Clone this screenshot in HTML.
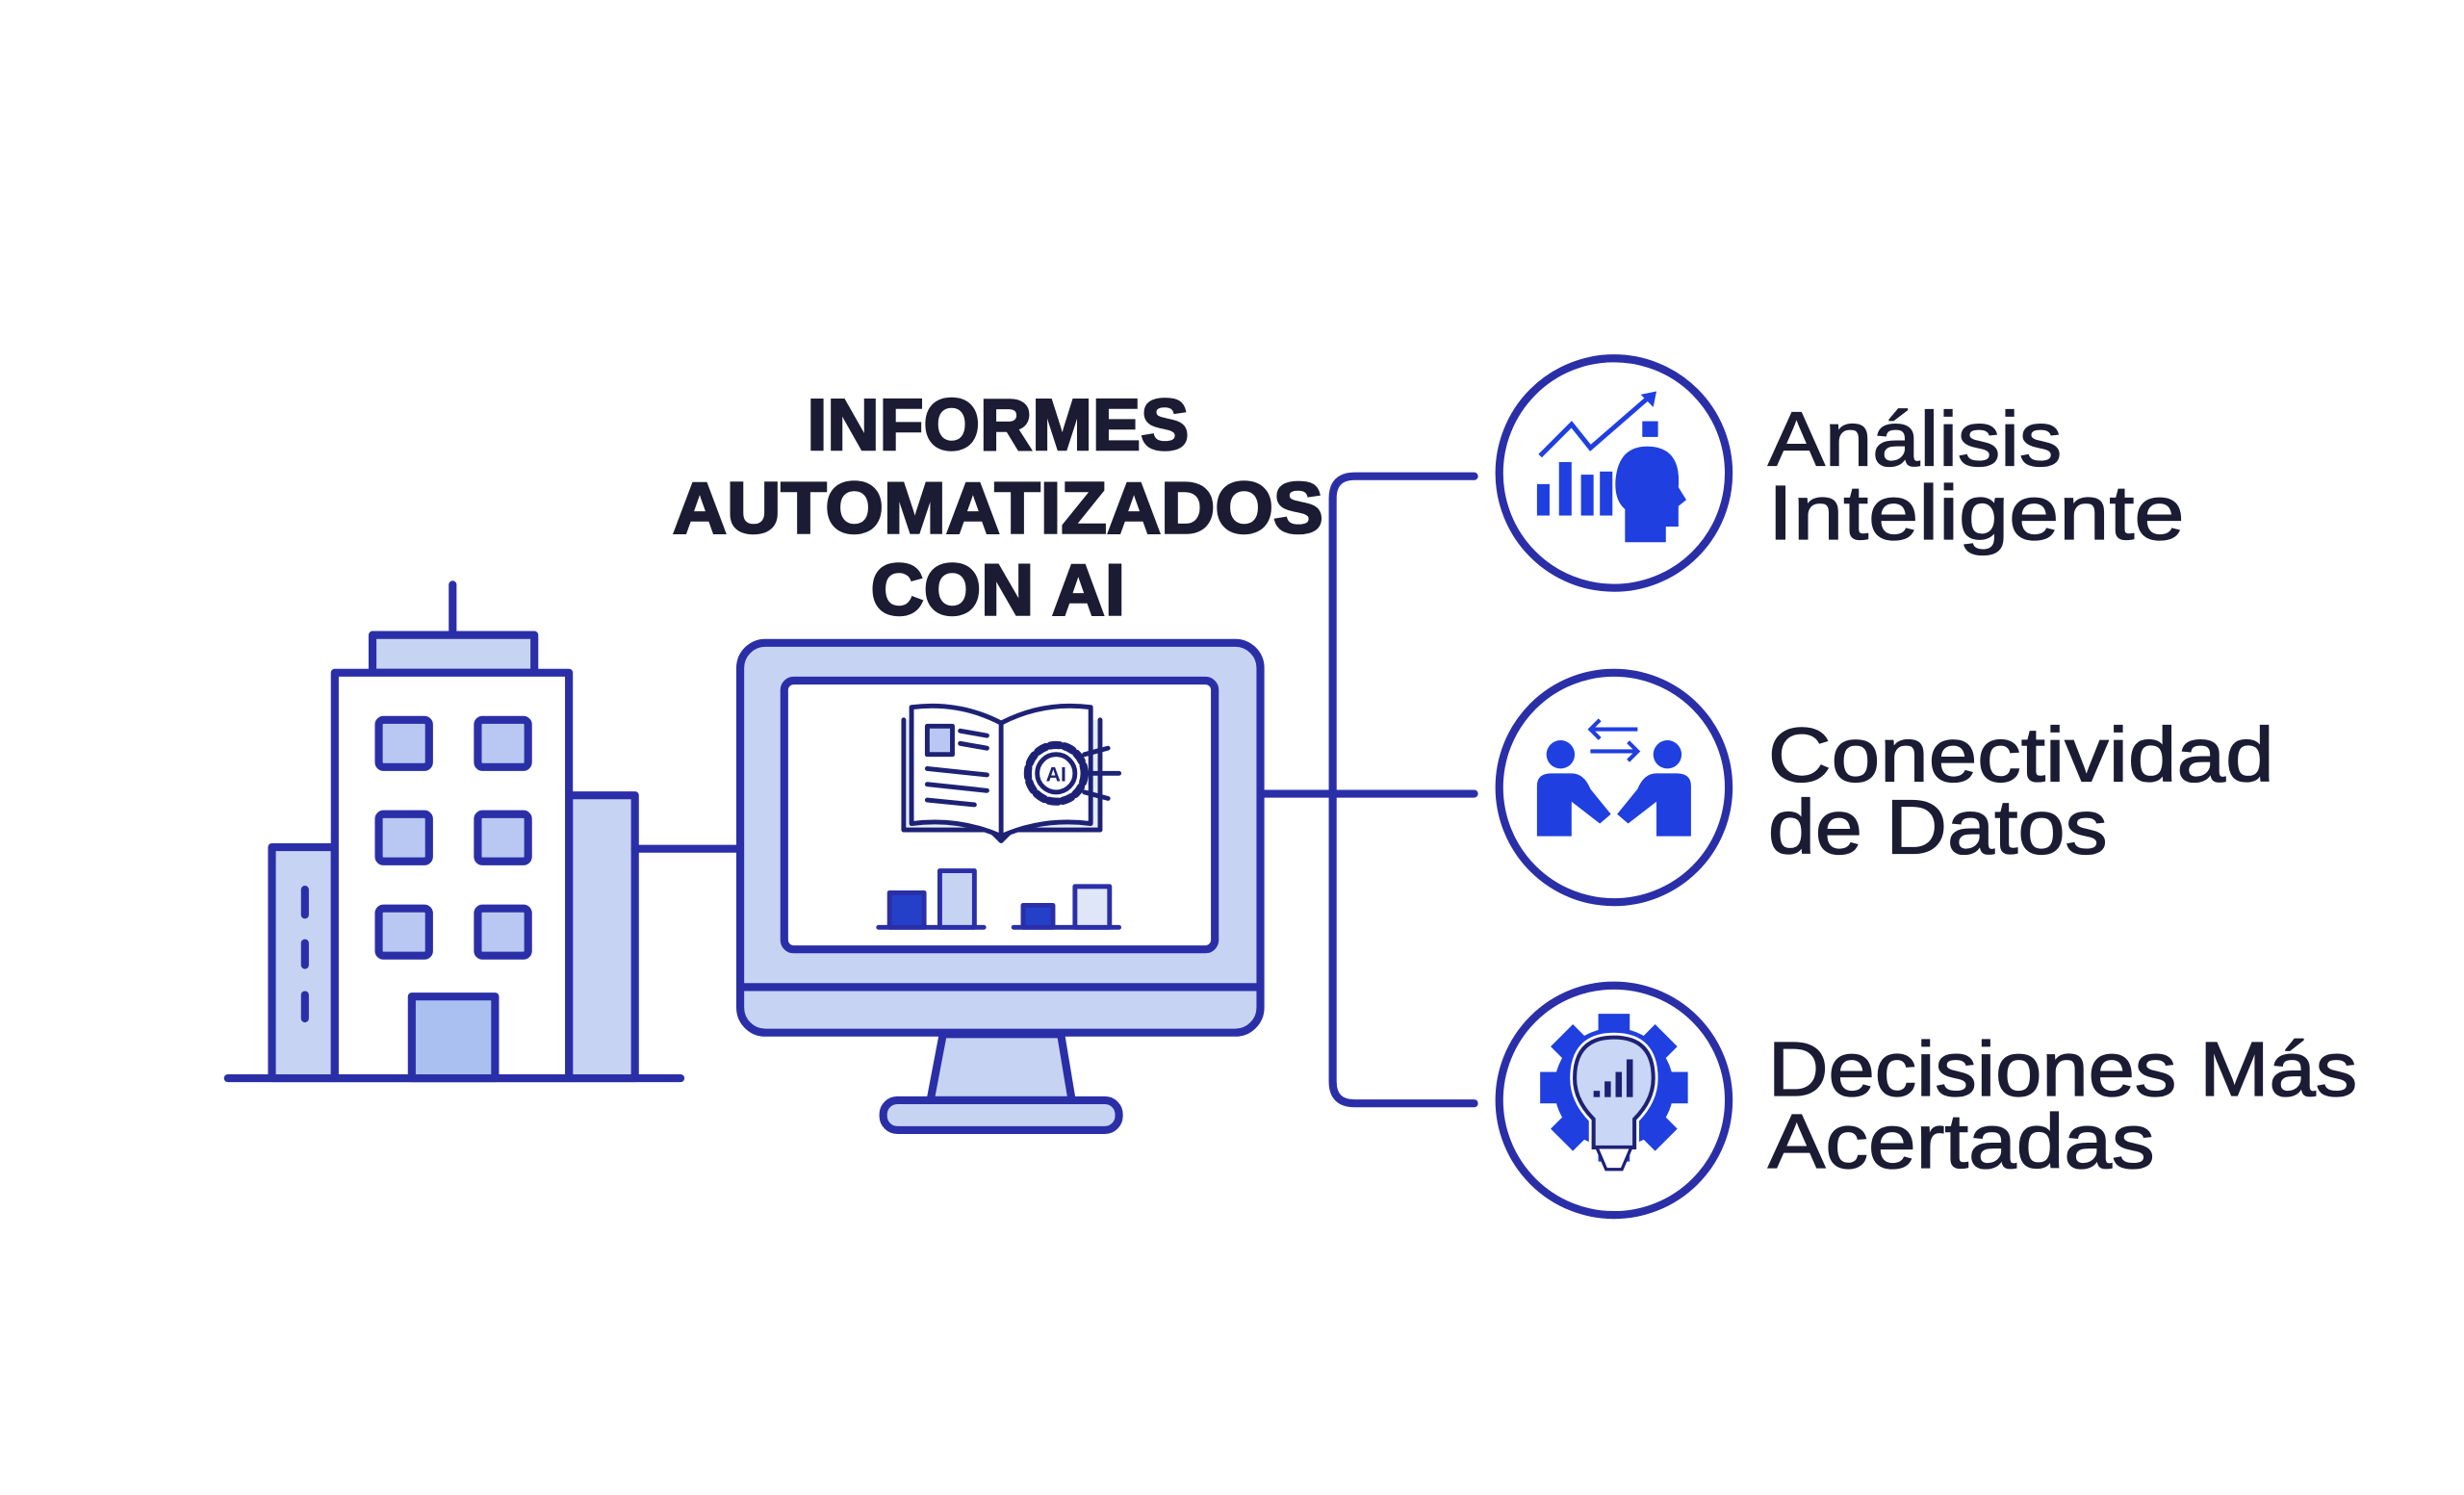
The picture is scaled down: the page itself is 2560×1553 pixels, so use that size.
<!DOCTYPE html>
<html><head><meta charset="utf-8"><style>
html,body{margin:0;padding:0;background:#fff;}
svg{display:block;}
</style></head><body>
<svg width="2560" height="1553" viewBox="0 0 1560 946.4" xmlns="http://www.w3.org/2000/svg">
<rect width="1560" height="947" fill="#fff"/>
<g transform="scale(0.995)">
<g stroke="#2a2fa8" stroke-width="5" stroke-linejoin="round" stroke-linecap="round">
<line x1="288" y1="372" x2="288" y2="403"/>
<rect x="237" y="404" width="103" height="24" fill="#c7d3f3"/>
<rect x="173" y="539" width="40" height="147" fill="#c7d3f3"/>
<rect x="362" y="506" width="42" height="180" fill="#c7d3f3"/>
<rect x="213" y="428" width="149" height="258" fill="#fff"/>
<g fill="#b9c8f2" stroke-width="5">
<rect x="241" y="458" width="32" height="30" rx="3"/><rect x="304" y="458" width="32" height="30" rx="3"/>
<rect x="241" y="518" width="32" height="30" rx="3"/><rect x="304" y="518" width="32" height="30" rx="3"/>
<rect x="241" y="578" width="32" height="30" rx="3"/><rect x="304" y="578" width="32" height="30" rx="3"/>
</g>
<rect x="262" y="634" width="53" height="52" fill="#a9c0f0"/>
<line x1="194" y1="566" x2="194" y2="582"/><line x1="194" y1="600" x2="194" y2="614"/><line x1="194" y1="633" x2="194" y2="648"/>
<line x1="145" y1="686" x2="433" y2="686"/>
<line x1="404" y1="540" x2="470" y2="540"/>
<line x1="802" y1="505" x2="848" y2="505"/>
<path d="M938 303 H862 Q848 303 848 317 V688 Q848 702 862 702 H938" fill="none"/>
<line x1="848" y1="505" x2="938" y2="505"/>
<path d="M600 658 L592 700 L682 700 L675 658 Z" fill="#c7d3f3"/>
<rect x="562" y="700" width="150" height="19" rx="9" fill="#c7d3f3"/>
<rect x="471" y="409" width="331" height="248" rx="16" fill="#c7d3f3"/>
<line x1="473" y1="628" x2="800" y2="628"/>
<rect x="499" y="433" width="274" height="171" rx="6" fill="#fff"/>
<g stroke-width="3">
<line x1="559" y1="590" x2="626" y2="590"/><line x1="645" y1="590" x2="712" y2="590"/>
<rect x="566" y="568" width="22" height="22" fill="#2540c8"/>
<rect x="598" y="554" width="22" height="36" fill="#c7d3f3"/>
<rect x="651" y="576" width="19" height="14" fill="#2540c8"/>
<rect x="684" y="564" width="22" height="26" fill="#dfe6f8"/>
</g>
<g stroke="#1e2275" stroke-width="3" fill="none">
<path d="M575 458 V528 H630 L637 535 L644 528 H700 V458" fill="#e6ecfb"/>
<path d="M580 450 Q610 446 637 460 Q664 446 694 450 V524 Q664 520 637 532 Q610 520 580 524 Z" fill="#fff"/>
<line x1="637" y1="460" x2="637" y2="532"/>
<rect x="590" y="462" width="16" height="18" fill="#b9c8f2"/>
<line x1="611" y1="465" x2="628" y2="468"/><line x1="611" y1="473" x2="628" y2="476"/>
<line x1="590" y1="489" x2="628" y2="493"/><line x1="590" y1="499" x2="628" y2="503"/><line x1="590" y1="509" x2="620" y2="512"/>
<circle cx="672" cy="492" r="18" stroke-dasharray="6 3" stroke-width="5"/>
<circle cx="672" cy="492" r="12" fill="#fff"/>
<line x1="690" y1="480" x2="705" y2="476"/><line x1="690" y1="492" x2="712" y2="492"/><line x1="690" y1="504" x2="705" y2="508"/>
</g>
<text x="672" y="497" font-family="Liberation Sans, sans-serif" font-size="13" font-weight="bold" fill="#1e2275" stroke="none" text-anchor="middle">AI</text>
<g fill="#fff" stroke-width="5">
<circle cx="1027" cy="301" r="73"/><circle cx="1027" cy="501" r="73"/><circle cx="1027" cy="700" r="73"/>
</g>
</g>
<g fill="#1f3fe0" stroke="#1f3fe0">
<rect x="978" y="308" width="8" height="20" stroke="none"/><rect x="992" y="294" width="8" height="34" stroke="none"/><rect x="1006" y="302" width="8" height="26" stroke="none"/><rect x="1018" y="300" width="8" height="28" stroke="none"/>
<polyline points="980,290 1000,270 1012,285 1050,252" fill="none" stroke-width="3"/>
<path d="M1044 251 L1054 249 L1052 259 Z" stroke="none"/>
<rect x="1045" y="268" width="10" height="10" stroke="none"/>
<path d="M1048 284 Q1030 284 1028 305 Q1027 318 1034 324 V345 H1060 V335 H1068 V322 L1073 318 L1068 310 Q1070 284 1048 284 Z" stroke="none"/>
</g>
<g fill="#1f3fe0" stroke="#1f3fe0">
<circle cx="993" cy="480" r="9" stroke="none"/><circle cx="1061" cy="480" r="9" stroke="none"/>
<path d="M978 532 V500 Q978 492 987 492 H1000 Q1008 492 1012 502 L1025 518 L1018 524 L1000 510 V532 Z" stroke="none"/>
<path d="M1076 532 V500 Q1076 492 1067 492 H1054 Q1046 492 1042 502 L1029 518 L1036 524 L1054 510 V532 Z" stroke="none"/>
<g fill="none" stroke-width="2.5"><line x1="1012" y1="464" x2="1042" y2="464"/><polyline points="1018,458 1012,464 1018,470"/><line x1="1012" y1="478" x2="1042" y2="478"/><polyline points="1036,472 1042,478 1036,484"/></g>
</g>
<g>
<circle cx="1027" cy="692" r="38" fill="#1f3fe0"/>
<g fill="#1f3fe0">
<rect x="1017" y="645" width="20" height="14"/><rect x="1017" y="725" width="20" height="14"/>
<rect x="980" y="682" width="14" height="20"/><rect x="1060" y="682" width="14" height="20"/>
<rect x="1017" y="645" width="20" height="14" transform="rotate(45 1027 692)"/><rect x="1017" y="645" width="20" height="14" transform="rotate(-45 1027 692)"/>
<rect x="1017" y="645" width="20" height="14" transform="rotate(135 1027 692)"/><rect x="1017" y="645" width="20" height="14" transform="rotate(-135 1027 692)"/>
</g>
<path d="M1027 660 Q1002 660 1002 686 Q1002 700 1014 712 V730 H1040 V712 Q1052 700 1052 686 Q1052 660 1027 660 Z" fill="#c9d6f6" stroke="#fff" stroke-width="6"/>
<path d="M1027 660 Q1002 660 1002 686 Q1002 700 1014 712 V730 H1040 V712 Q1052 700 1052 686 Q1052 660 1027 660 Z" fill="#c9d6f6" stroke="#1e2275" stroke-width="2.5"/>
<path d="M1016 730 H1038 L1032 744 H1022 Z" fill="#fff" stroke="#1e2275" stroke-width="2"/>
<g fill="#1e2275"><rect x="1014" y="694" width="4" height="4"/><rect x="1021" y="688" width="4" height="10"/><rect x="1028" y="682" width="4" height="16"/><rect x="1035" y="674" width="4" height="24"/></g>
</g>
<g font-family="Liberation Sans, sans-serif" font-weight="bold" fill="#1b1c33" stroke="#1b1c33" stroke-width="1.5" text-anchor="middle" font-size="46">
<text x="635" y="286" textLength="243" lengthAdjust="spacingAndGlyphs">INFORMES</text>
<text x="635" y="339" textLength="414" lengthAdjust="spacingAndGlyphs">AUTOMATIZADOS</text>
<text x="635" y="391" textLength="162" lengthAdjust="spacingAndGlyphs">CON AI</text>
</g>
<g font-family="Liberation Sans, sans-serif" fill="#1b1c33" font-size="49" stroke="#1b1c33" stroke-width="0.8">
<text x="1125" y="296" textLength="187" lengthAdjust="spacingAndGlyphs">Análisis</text>
<text x="1125" y="343" textLength="265" lengthAdjust="spacingAndGlyphs">Inteligente</text>
<text x="1125" y="497" textLength="322" lengthAdjust="spacingAndGlyphs">Conectividad</text>
<text x="1125" y="543" textLength="216" lengthAdjust="spacingAndGlyphs">de Datos</text>
<text x="1125" y="697" textLength="375" lengthAdjust="spacingAndGlyphs">Decisiones Más</text>
<text x="1125" y="743" textLength="246" lengthAdjust="spacingAndGlyphs">Acertadas</text>
</g>
</g>
</svg>
</body></html>
